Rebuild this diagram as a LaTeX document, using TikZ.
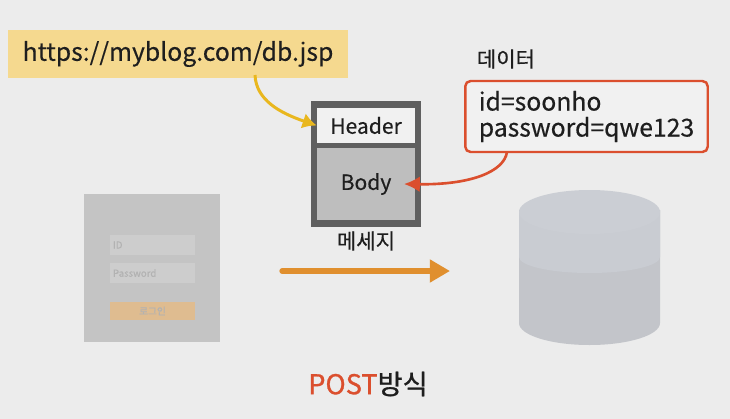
\documentclass[tikz,border=0pt]{standalone}
\usepackage{fontspec}
\setmainfont{Noto Sans CJK KR}[FakeBold=0.35]
\usepackage{color}
\usetikzlibrary{positioning, calc}
\usetikzlibrary{arrows.meta}
\definecolor{bgcol}{HTML}{ECECEC}
\definecolor{urlcol}{HTML}{F5D98F}
\definecolor{msgcol}{HTML}{5F5F5F}
\definecolor{headcol}{HTML}{F1F1F1}
\definecolor{bodycol}{HTML}{BEBEBE}
\definecolor{redcol}{HTML}{DB4F2E}
\definecolor{yelcol}{HTML}{E9B71E}
\definecolor{orgcol}{HTML}{E08F2E}
\definecolor{txtcol}{HTML}{1E1E1E}
\definecolor{formcol}{HTML}{C4C4C4}
\definecolor{fieldcol}{HTML}{CDCDCD}
\definecolor{btncol}{HTML}{DFBC90}
\definecolor{dbtop}{HTML}{CBCED4}
\definecolor{dbmid}{HTML}{C9CCD2}
\definecolor{dblow}{HTML}{C3C5CA}
\begin{document}
\begin{tikzpicture}[x=0.02cm,y=-0.02cm,
                lbl/.style={text=txtcol,font=\fontsize{14.1}{14.8}\selectfont,inner sep=0pt},
                small lbl/.style={text=txtcol,font=\fontsize{12}{13}\selectfont,inner sep=0pt},
                part/.style={inner sep=0pt,minimum width=1.96cm},
                field/.style={fill=fieldcol,text=black!30,font=\fontsize{5.5}{6}\selectfont,inner xsep=0.06cm,inner ysep=0pt,text width=1.58cm,align=left,minimum height=0.4cm}]
                \fill[bgcol] (0,0) rectangle (730,419);
                \useasboundingbox (0,0) rectangle (730,419);
                \node[lbl,fill=urlcol,minimum width=6.8cm,minimum height=0.96cm] (url) at (178,54) {https://myblog.com/db.jsp};
                \node[fill=msgcol,inner sep=0pt,minimum width=2.2cm,minimum height=2.52cm] (msg) at (366,164) {};
                \node[part,small lbl,fill=headcol,minimum height=0.7cm] (header) at (366,125.5) {Header};
                \node[part,small lbl,fill=bodycol,minimum height=1.44cm] (body) at (366,184) {Body};
                \node[small lbl] (msglbl) at (366,241) {메세지};
                \node[small lbl] (datalbl) at (506,59) {데이터};
                \node[lbl,draw=redcol,line width=1.4pt,rounded corners=3pt,fill=headcol,align=left,minimum width=4.85cm,minimum height=1.42cm] (data) at (586.5,116.5) {id=soonho\\password=qwe123};
                \coordinate (urlout) at (255,75);
                \coordinate (dataout) at (507,152);
                \coordinate (bodyin) at (404,184);
                \draw[yelcol,line width=1.7pt,-{Latex[length=8pt,width=9pt]}] (urlout) .. controls (256,100) and (280,113) .. (header.west);
                \draw[redcol,line width=1.5pt,-{Latex[length=9pt,width=9pt]}] (dataout) .. controls (504,172) and (470,185) .. (bodyin);
                \node[fill=formcol,inner sep=0pt,minimum width=2.72cm,minimum height=2.96cm] (form) at (152,268) {};
                \node[field] (idbox) at (152.5,245) {ID};
                \node[field] (pwbox) at (152.5,273) {Password};
                \node[fill=btncol,text=black!30,font=\fontsize{5.5}{6}\selectfont,inner sep=0pt,minimum width=1.7cm,minimum height=0.36cm] (loginbtn) at (152.5,311) {로그인};
                \coordinate (sendfrom) at (282,271);
                \coordinate (sendto) at (450,271);
                \draw[orgcol,line width=3pt,line cap=round,-{Triangle[length=11.5pt,width=12.5pt]}] (sendfrom) -- (sendto);
                \fill[dblow] (519,210) -- (519,323) arc[start angle=180,end angle=0,x radius=70.5,y radius=22] -- (660,210) -- cycle;
                \fill[dbmid] (519,210) -- (519,257) arc[start angle=180,end angle=0,x radius=70.5,y radius=16] -- (660,210) -- cycle;
                \fill[dbtop] (589.5,212) ellipse[x radius=70.5,y radius=22];
                \node[font=\fontsize{15.5}{18}\selectfont\addfontfeature{FakeBold=1},inner sep=0pt] (title) at (368,384) {\textcolor{redcol}{POST}\textcolor{txtcol}{방식}};
            \end{tikzpicture}
\end{document}
